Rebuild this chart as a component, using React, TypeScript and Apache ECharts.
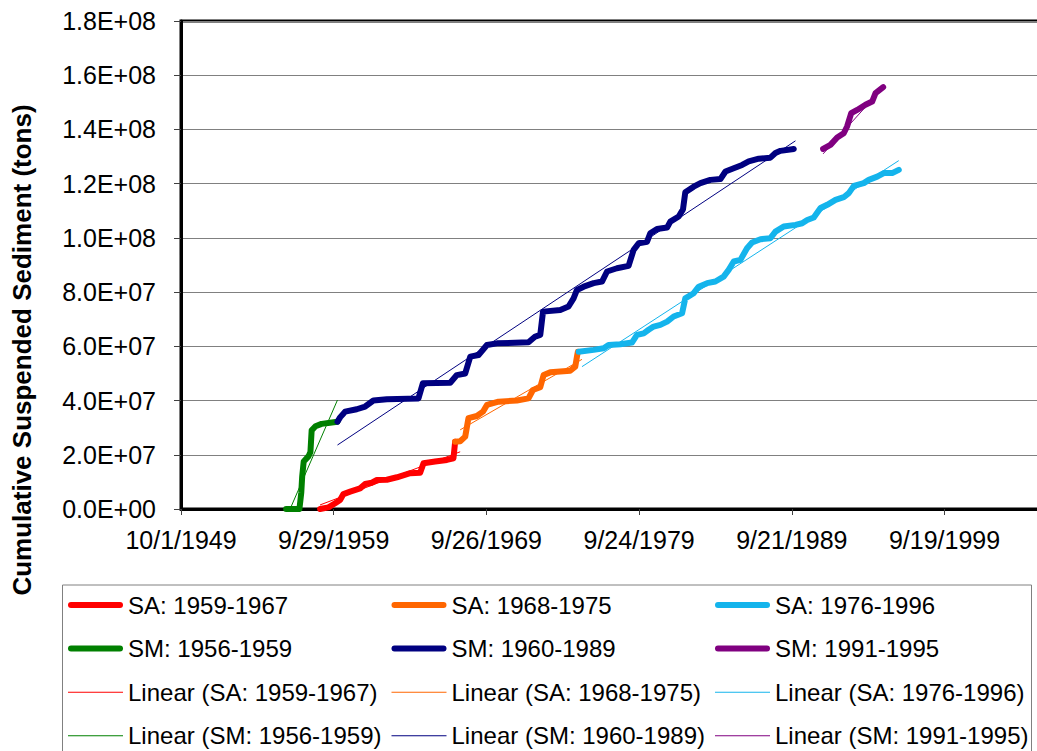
import React, { useEffect, useRef } from "react";
import * as echarts from "echarts";

// Excel serial date of 10/1/1949 (first x tick); axis values are days after it
const X_ORIGIN_SERIAL = 18172;
const X_INTERVAL = 3650;
const X_MAX = 21170;
const Y_MAX = 1.8e8;
const Y_INTERVAL = 2e7;

// [decimal year, cumulative suspended sediment in millions of tons]
const SA_1959_1967: [number, number][] = [
  [1958.85, 0], [1959.4, 0.6], [1959.84, 2.1], [1960.16, 3.3], [1960.38, 5.5], [1960.82, 6.4],
  [1961.47, 7.6], [1961.8, 9.2], [1962.24, 9.7], [1962.57, 10.7], [1963.22, 10.8], [1963.88, 11.7],
  [1964.75, 13.2], [1965.4, 13.4], [1965.62, 16.9], [1966.38, 17.5], [1967.15, 18.1], [1967.58, 18.7],
  [1967.69, 24.8],
];
const SA_1968_1975: [number, number][] = [
  [1967.69, 24.8], [1968.02, 25.0], [1968.35, 26.7], [1968.56, 33.5], [1969.11, 34.3], [1969.51, 35.9],
  [1969.77, 38.4], [1970.53, 39.6], [1971.73, 40.0], [1972.49, 40.8], [1972.78, 43.9], [1973.26, 44.9],
  [1973.48, 49.4], [1973.91, 50.4], [1975.22, 51.0], [1975.55, 52.5], [1975.66, 56.2], [1975.72, 58.0],
];
const SA_1976_1996: [number, number][] = [
  [1975.77, 58.0], [1976.75, 58.7], [1977.41, 59.3], [1977.73, 60.5], [1978.5, 60.8], [1979.26, 61.4],
  [1979.59, 64.2], [1980.03, 64.8], [1980.35, 66.1], [1980.68, 67.3], [1981.12, 67.9], [1981.56, 69.1],
  [1981.99, 71.0], [1982.54, 72.2], [1982.75, 77.7], [1983.3, 79.6], [1983.63, 82.0], [1984.18, 83.3],
  [1984.72, 83.9], [1985.26, 85.7], [1985.59, 88.2], [1985.92, 91.3], [1986.36, 91.9], [1986.79, 96.2],
  [1987.12, 98.3], [1987.67, 99.5], [1988.32, 99.9], [1988.65, 102.3], [1989.19, 104.2], [1989.96, 104.8],
  [1990.4, 105.4], [1990.73, 106.6], [1991.16, 107.5], [1991.6, 111.0], [1992.04, 112.2], [1992.58, 114.0],
  [1993.12, 115.0], [1993.45, 116.5], [1993.78, 119.2], [1994.43, 120.2], [1994.76, 121.4], [1995.31, 122.6],
  [1995.74, 123.9], [1996.29, 123.9], [1996.72, 125.1],
];
const SM_1956_1959: [number, number][] = [
  [1956.63, 0], [1957.5, 0], [1957.62, 6.0], [1957.68, 12.0], [1957.78, 17.5], [1958.1, 19.5],
  [1958.22, 21.0], [1958.3, 29.0], [1958.55, 30.5], [1958.95, 31.4], [1959.5, 31.8], [1959.99, 32.2],
];
const SM_1960_1989: [number, number][] = [
  [1959.99, 32.2], [1960.16, 33.8], [1960.49, 35.9], [1961.25, 36.8], [1961.8, 37.8], [1962.34, 40.0],
  [1963.22, 40.5], [1965.29, 40.8], [1965.58, 46.4], [1967.37, 46.6], [1967.8, 49.4], [1968.35, 50.0],
  [1968.68, 56.2], [1969.22, 56.8], [1969.77, 60.5], [1970.42, 61.1], [1972.49, 61.5], [1972.93, 63.6],
  [1973.26, 64.2], [1973.44, 72.8], [1974.57, 73.4], [1975.11, 74.7], [1975.44, 77.7], [1975.66, 80.8],
  [1976.1, 82.0], [1976.75, 83.3], [1977.3, 83.9], [1977.63, 87.6], [1978.28, 88.8], [1979.04, 89.7],
  [1979.37, 95.6], [1979.7, 98.0], [1980.25, 98.6], [1980.46, 101.7], [1980.9, 103.3], [1981.56, 103.8],
  [1981.77, 106.0], [1982.32, 107.9], [1982.6, 110.5], [1982.75, 116.8], [1983.3, 118.9], [1983.74, 120.2],
  [1984.39, 121.4], [1985.05, 121.7], [1985.38, 124.5], [1985.92, 125.7], [1986.47, 126.9], [1986.9, 128.2],
  [1987.56, 129.2], [1988.32, 129.6], [1988.65, 131.3], [1988.98, 132.1], [1989.85, 132.8],
];
const SM_1991_1995: [number, number][] = [
  [1991.77, 132.8], [1992.25, 134.3], [1992.69, 137.0], [1993.12, 138.6], [1993.34, 141.1], [1993.61, 146.0],
  [1994.0, 147.2], [1994.54, 149.1], [1994.98, 150.3], [1995.2, 153.4], [1995.7, 155.6],
];

// Linear trend lines: start and end points [year, millions of tons]
const LIN_SA_1959_1967: [number, number][] = [[1958.85, 1.5], [1968.02, 21.1]];
const LIN_SA_1968_1975: [number, number][] = [[1968.02, 29.2], [1975.99, 55.2]];
const LIN_SA_1976_1996: [number, number][] = [[1975.99, 52.5], [1996.72, 128.5]];
const LIN_SM_1956_1959: [number, number][] = [[1956.89, 0], [1959.99, 40.2]];
const LIN_SM_1960_1989: [number, number][] = [[1959.99, 23.6], [1989.96, 135.8]];
const LIN_SM_1991_1995: [number, number][] = [[1991.77, 131.0], [1995.7, 155.5]];

const SERIES_NAMES = [
  "SA: 1959-1967", "SA: 1968-1975", "SA: 1976-1996",
  "SM: 1956-1959", "SM: 1960-1989", "SM: 1991-1995",
];
const SERIES_COLORS = ["#FF0000", "#FF6600", "#14B4EC", "#008000", "#000080", "#800080"];
const SERIES_DATA = [SA_1959_1967, SA_1968_1975, SA_1976_1996, SM_1956_1959, SM_1960_1989, SM_1991_1995];
const TREND_DATA = [LIN_SA_1959_1967, LIN_SA_1968_1975, LIN_SA_1976_1996, LIN_SM_1956_1959, LIN_SM_1960_1989, LIN_SM_1991_1995];

const FONT = '"Liberation Sans", Arial, Helvetica, sans-serif';

const toDays = (yr: number) => (yr - 1949.75) * 365.25;
const build = (arr: [number, number][]) => arr.map(([y, v]) => [toDays(y), v * 1e6]);

function fmtDate(v: number): string {
  const d = new Date(Date.UTC(1899, 11, 30) + (X_ORIGIN_SERIAL + Math.round(v)) * 86400000);
  return `${d.getUTCMonth() + 1}/${d.getUTCDate()}/${d.getUTCFullYear()}`;
}
function fmtSci(v: number): string {
  if (v === 0) return "0.0E+00";
  const e = Math.floor(Math.log10(Math.abs(v)) + 1e-9);
  const m = v / Math.pow(10, e);
  return `${m.toFixed(1)}E+${String(e).padStart(2, "0")}`;
}

const THICK_ICON = "path://M3,0H52A3,3,0,0,1,52,6H3A3,3,0,0,1,3,0Z";
const THIN_ICON = "path://M0,0H55V1H0Z";

export default function App() {
  const ref = useRef<HTMLDivElement>(null);
  useEffect(() => {
    if (!ref.current) return;
    const chart = echarts.init(ref.current, undefined, { renderer: "svg" });
    const series: any[] = [];
    SERIES_NAMES.forEach((name, i) => {
      series.push({
        type: "line", name, data: build(SERIES_DATA[i]), symbol: "none", color: SERIES_COLORS[i],
        lineStyle: { width: 6, color: SERIES_COLORS[i], cap: "round", join: "round" },
        itemStyle: { color: SERIES_COLORS[i] }, silent: true, z: 3,
      });
    });
    SERIES_NAMES.forEach((name, i) => {
      series.push({
        type: "line", name: `Linear (${name})`, data: build(TREND_DATA[i]), symbol: "none", color: SERIES_COLORS[i],
        lineStyle: { width: 1, color: SERIES_COLORS[i] },
        itemStyle: { color: SERIES_COLORS[i] }, silent: true, z: 4,
      });
    });
    const cols = [[0, 3], [1, 4], [2, 5]];
    const legendLefts = [68, 391.5, 715];
    const legends = cols.map((c, k) => ({
      orient: "vertical", left: legendLefts[k], top: 593, padding: 0,
      itemWidth: 55, itemHeight: 24, itemGap: 19.6,
      itemStyle: { borderWidth: 0 },
      textStyle: { fontSize: 24, fontFamily: FONT, color: "#000", lineHeight: 24 },
      selectedMode: false,
      data: [
        { name: SERIES_NAMES[c[0]], icon: THICK_ICON },
        { name: SERIES_NAMES[c[1]], icon: THICK_ICON },
        { name: `Linear (${SERIES_NAMES[c[0]]})`, icon: THIN_ICON },
        { name: `Linear (${SERIES_NAMES[c[1]]})`, icon: THIN_ICON },
      ],
    }));
    chart.setOption({
      animation: false,
      backgroundColor: "#fff",
      grid: { left: 181, top: 21, width: 885.7, height: 488, show: true, borderColor: "#000", borderWidth: 3, backgroundColor: "transparent" },
      xAxis: {
        type: "value", min: 0, max: X_MAX, interval: X_INTERVAL,
        axisLine: { show: true, lineStyle: { color: "#000", width: 3 } },
        axisTick: { show: true, length: 6, lineStyle: { color: "#404040", width: 1 } },
        axisLabel: { formatter: fmtDate, fontSize: 25, fontFamily: FONT, color: "#000", margin: 18, showMaxLabel: false },
        splitLine: { show: false },
      },
      yAxis: {
        type: "value", min: 0, max: Y_MAX, interval: Y_INTERVAL,
        axisLine: { show: true, lineStyle: { color: "#000", width: 3 } },
        axisTick: { show: true, length: 7, lineStyle: { color: "#404040", width: 1 } },
        axisLabel: { formatter: fmtSci, fontSize: 25, fontFamily: FONT, color: "#000", margin: 25 },
        splitLine: { show: true, lineStyle: { color: "#808080", width: 1 } },
      },
      legend: legends,
      graphic: [
        {
          type: "rect", shape: { x: 62.5, y: 585, width: 969, height: 220 }, z: -1, silent: true,
          style: { fill: "none", stroke: "#808080", lineWidth: 1 },
        },
        {
          type: "text", x: 22, y: 350, rotation: Math.PI / 2, silent: true,
          style: {
            text: "Cumulative Suspended Sediment (tons)", fontSize: 26, fontWeight: "bold",
            fontFamily: FONT, fill: "#000", align: "center", verticalAlign: "middle",
          },
        },
      ],
      series,
    });
    return () => chart.dispose();
  }, []);
  return (
    <div style={{ position: "fixed", left: 0, top: 0, width: 1037, height: 751, overflow: "hidden", background: "#fff" }}>
      <div ref={ref} style={{ width: 1100, height: 800 }} />
    </div>
  );
}
